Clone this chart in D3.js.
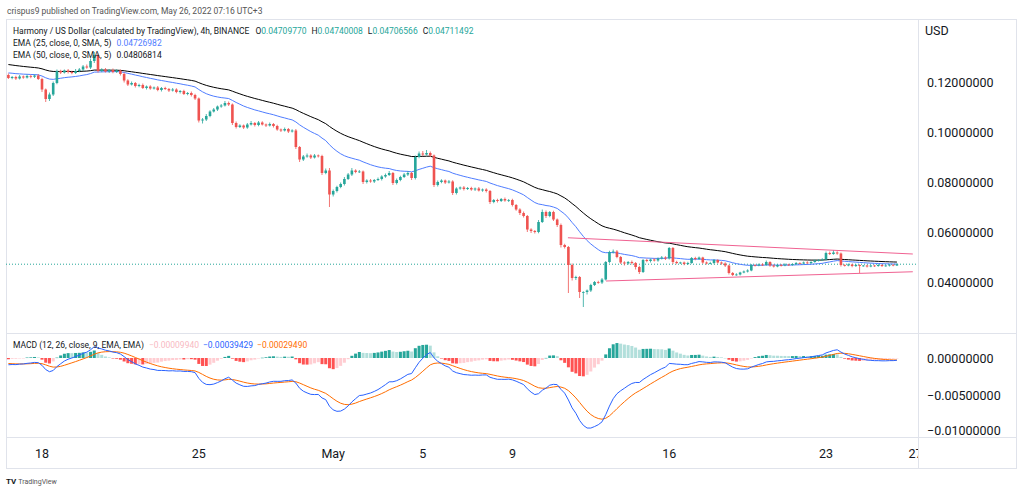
<!DOCTYPE html>
<html>
<head>
<meta charset="utf-8">
<script src="https://cdn.jsdelivr.net/npm/d3@7"></script>
<style>
  body { margin: 0; background: #fff; }
  svg { display: block; font-family: Roboto, "Noto Sans", sans-serif; }
</style>
</head>
<body>
<svg id="chart" width="1024" height="495"></svg>
<script>
// ---- data (prices in units of 0.0001 USD), 4h candles from Apr 16 12:00 (UTC+3)
const firstOpen = 1228;
const closes = [
  1216,1220,1214,1222,1218,1224,1221,1226,1212,1170,
  1132,1150,1196,1244,1238,1246,1240,1236,1244,1250,
  1262,1258,1284,1308,1244,1250,1242,1248,1240,1246,
  1232,1206,1190,1196,1184,1188,1176,1182,1174,1178,
  1168,1176,1172,1166,1170,1160,1164,1152,1156,1148,
  1134,1046,1050,1064,1082,1090,1102,1106,1116,1110,
  1036,1020,1026,1018,1030,1036,1028,1038,1030,1026,
  1032,1024,1010,1006,1012,1002,1006,940,890,902,
  906,898,906,904,836,846,750,764,780,792,
  812,830,846,840,842,800,806,802,808,812,
  822,828,836,796,808,820,830,836,816,900,
  914,910,916,906,788,800,806,798,802,756,
  774,778,772,776,770,774,766,770,764,720,
  728,724,732,726,728,708,690,676,664,610,
  604,600,640,680,664,680,650,628,548,540,
  468,416,420,360,360,366,388,400,398,410,
  480,520,522,500,478,474,480,476,460,440,
  488,484,490,486,494,498,494,536,480,476,
  478,472,476,496,492,498,478,474,476,488,
  478,474,466,436,428,430,438,442,446,468,
  466,470,468,480,466,462,468,466,470,468,
  472,476,474,478,476,480,486,488,490,516,
  512,518,514,468,466,470,464,468,464,466,
  462,466,464,468,464,466,469,466,471.1492
];
// upper / lower wick lengths beyond the candle body
const wickUp = [
  6,4,5,6,4,6,5,4,6,5, 4,8,6,6,5,4,6,5,8,6, 6,8,10,12,6,5,6,4,6,5,
  4,6,5,6,4,5,6,4,5,4, 6,4,5,4,6,5,4,5,4,6, 5,4,6,8,5,6,4,6,8,6,
  4,6,5,4,6,8,4,6,5,4, 6,4,5,4,6,4,5,6,4,6, 8,5,6,4,5,8,10,6,5,6,
  8,6,10,5,6,4,5,6,4,6, 5,6,8,4,6,5,6,8,4,6, 8,10,12,6,4,6,5,4,6,5,
  5,4,6,4,5,4,6,4,5,4, 4,5,4,6,4,5,4,5,6,4, 5,4,8,10,6,4,5,4,6,5,
  4,6,5,4,3,4,5,4,5,6, 4,5,8,6,4,5,4,6,4,5, 4,5,4,5,4,6,5,4,4,5,
  3,4,5,4,5,4,3,4,5,4, 3,4,5,3,4,5,3,4,5,4, 3,4,5,6,3,4,3,4,5,3,
  3,4,3,4,5,3,4,3,5,6, 6,10,5,4,3,4,3,4,3,2, 3,2,3,4,3,2,3,2,3
];
const wickDown = [
  4,5,6,4,5,4,6,5,4,10, 12,8,6,5,6,4,6,5,4,5, 6,5,6,8,6,5,4,6,5,4,
  6,8,6,4,6,5,4,6,5,4, 5,6,4,6,4,5,6,4,5,6, 6,8,12,6,5,4,6,5,4,6,
  8,6,4,6,5,4,6,5,4,6, 4,6,5,6,4,6,4,8,10,6, 5,6,4,6,8,5,50,8,6,5,
  6,4,6,5,4,8,6,5,6,4, 6,5,4,8,6,5,4,6,8,6, 5,6,4,6,8,6,5,6,4,8,
  6,5,6,4,5,6,4,5,6,8, 5,6,4,5,6,6,5,8,6,10, 8,6,5,4,8,5,6,8,10,6,
  112,10,8,24,60,10,6,4,5,6, 4,5,6,5,6,8,5,6,10,8, 4,5,6,4,5,4,6,4,8,5,
  4,5,4,3,5,4,5,4,3,5, 4,5,6,6,4,3,4,3,4,3, 4,3,4,3,5,4,3,4,3,4,
  3,4,3,4,3,4,3,4,3,4, 4,3,5,6,4,3,5,4,28,3, 4,3,4,3,4,3,4,3,2
];
// indicator values just before the first visible candle
const emaSeeds = { ema25: 0.1238, ema50: 0.1272, fast: 0.1226, slow: 0.1235, signal: -0.0007 };

const timeTicks = [
  [Date.UTC(2022,3,18), "18"], [Date.UTC(2022,3,25), "25"], [Date.UTC(2022,4,1), "May"],
  [Date.UTC(2022,4,5), "5"], [Date.UTC(2022,4,9), "9"], [Date.UTC(2022,4,16), "16"],
  [Date.UTC(2022,4,23), "23"], [Date.UTC(2022,4,27), "27"]
];
const priceTicks = [0.04, 0.06, 0.08, 0.10, 0.12];
const macdTicks = [0, -0.005, -0.01];
const upperTrend = [[Date.UTC(2022,4,11,11,30), 0.0577], [Date.UTC(2022,4,26,21), 0.0512]];
const lowerTrend = [[Date.UTC(2022,4,13,4,20), 0.0404], [Date.UTC(2022,4,26,21), 0.0441]];
const lastPrice = 0.04711492;

const headerText = "crispus9 published on TradingView.com, May 26, 2022 07:16 UTC+3";
const ohlcLegend = [["O", "0.04709770"], ["H", "0.04740008"], ["L", "0.04706566"], ["C", "0.04711492"]];
const emaLegend = [["EMA (25, close, 0, SMA, 5)", "0.04726982", "#4f7dff"],
                   ["EMA (50, close, 0, SMA, 5)", "0.04806814", "#131722"]];
const macdLegend = [["\u22120.00009940", "#f8b9c2"], ["\u22120.00039429", "#2962ff"], ["\u22120.00029490", "#ff6d00"]];

// ---- build candles and indicators
const start = Date.UTC(2022,3,16,12);
const step = 4 * 3600 * 1000;
const candles = closes.map((c, i) => {
  const o = i === 0 ? firstOpen : closes[i - 1];
  return {
    t: new Date(start + i * step),
    o: o * 1e-4, c: c * 1e-4,
    h: (Math.max(o, c) + wickUp[i]) * 1e-4,
    l: (Math.min(o, c) - wickDown[i]) * 1e-4
  };
});

function ema(values, n, seed) {
  const a = 2 / (n + 1);
  let prev = seed;
  return values.map(v => (prev = prev + a * (v - prev)));
}
const cl = candles.map(d => d.c);
const ema25 = ema(cl, 25, emaSeeds.ema25);
const ema50 = ema(cl, 50, emaSeeds.ema50);
const fast = ema(cl, 12, emaSeeds.fast);
const slow = ema(cl, 26, emaSeeds.slow);
const macd = fast.map((f, i) => f - slow[i]);
const signal = ema(macd, 9, emaSeeds.signal);
const hist = macd.map((m, i) => m - signal[i]);

// ---- layout
const L = 6, R = 1017, AX = 918, T = 19, PB = 333, MB = 437, B = 469;
const svg = d3.select("#chart");

const x = d3.scaleUtc()
  .domain([Date.UTC(2022,3,18), Date.UTC(2022,4,23)])
  .range([42, 826]);
const y = d3.scaleLinear().domain([0.0196, 0.1452]).range([PB, T]);
const ym = d3.scaleLinear().domain([-0.01, 0]).range([432, 358]);
const fmt = v => d3.format(".8f")(v).replace("-", "\u2212");

const defs = svg.append("defs");
defs.append("clipPath").attr("id", "cp").append("rect")
  .attr("x", L).attr("y", T).attr("width", AX - L).attr("height", PB - T);
defs.append("clipPath").attr("id", "cm").append("rect")
  .attr("x", L).attr("y", PB).attr("width", AX - L).attr("height", MB - PB);
defs.append("clipPath").attr("id", "ct").append("rect")
  .attr("x", L).attr("y", MB).attr("width", AX - L).attr("height", B - MB);

// header
svg.append("text").attr("x", 7).attr("y", 14)
  .attr("font-size", 8.5).attr("fill", "#555").text(headerText);

// frame
const grid = svg.append("g").attr("stroke", "#e0e3eb").attr("fill", "none");
grid.append("rect").attr("x", L + 0.5).attr("y", T + 0.5).attr("width", R - L - 1).attr("height", B - T - 1);
grid.append("line").attr("x1", AX + 0.5).attr("x2", AX + 0.5).attr("y1", T).attr("y2", B);
grid.append("line").attr("x1", L).attr("x2", R).attr("y1", PB + 0.5).attr("y2", PB + 0.5);
grid.append("line").attr("x1", L).attr("x2", R).attr("y1", MB + 0.5).attr("y2", MB + 0.5);

// ---- price pane
const pp = svg.append("g").attr("clip-path", "url(#cp)");
const up = "#26a69a", down = "#ef5350";

pp.append("line")
  .attr("x1", L).attr("x2", AX).attr("y1", y(lastPrice)).attr("y2", y(lastPrice))
  .attr("stroke", up).attr("stroke-width", 1).attr("stroke-dasharray", "1,2");

const line = d3.line().x((d, i) => x(candles[i].t)).y(d => y(d));
pp.append("path").attr("d", line(ema50)).attr("fill", "none").attr("stroke", "#000").attr("stroke-width", 1);
pp.append("path").attr("d", line(ema25)).attr("fill", "none").attr("stroke", "#4f7dff").attr("stroke-width", 1);

const cg = pp.append("g").selectAll("g").data(candles).join("g")
  .attr("fill", d => d.c >= d.o ? up : down)
  .attr("stroke", d => d.c >= d.o ? up : down);
cg.append("line")
  .attr("x1", d => x(d.t)).attr("x2", d => x(d.t))
  .attr("y1", d => y(d.h)).attr("y2", d => y(d.l)).attr("stroke-width", 0.8);
cg.append("rect")
  .attr("x", d => x(d.t) - 1.3).attr("width", 2.6)
  .attr("y", d => y(Math.max(d.o, d.c)))
  .attr("height", d => Math.max(0.8, Math.abs(y(d.o) - y(d.c))))
  .attr("stroke", "none");

const tl = d3.line().x(d => x(d[0])).y(d => y(d[1]));
[upperTrend, lowerTrend].forEach(seg => {
  pp.append("path").attr("d", tl(seg)).attr("fill", "none")
    .attr("stroke", "#f06292").attr("stroke-width", 1);
});

// legend
const lg = svg.append("g").attr("font-size", 8.5).attr("fill", "#131722");
const t1 = lg.append("text").attr("x", 13).attr("y", 34);
t1.append("tspan").text("Harmony / US Dollar (calculated by TradingView), 4h, BINANCE");
ohlcLegend.forEach(([k, v], i) => {
  t1.append("tspan").attr("dx", i === 0 ? 6 : 5).text(k);
  t1.append("tspan").attr("fill", up).text(v);
});
emaLegend.forEach(([k, v, c], i) => {
  const t = lg.append("text").attr("x", 13).attr("y", 46 + i * 11.5);
  t.append("tspan").text(k);
  t.append("tspan").attr("dx", 5).attr("fill", c).text(v);
});

// price axis
const pa = svg.append("g").attr("font-size", 12.5).attr("fill", "#131722");
pa.append("text").attr("x", 925).attr("y", 35).text("USD");
pa.selectAll(".pt").data(priceTicks).join("text")
  .attr("x", 927).attr("y", d => y(d) + 4.5).text(fmt);

// ---- MACD pane
const mp = svg.append("g").attr("clip-path", "url(#cm)");
const histColor = (h, i) => {
  const prev = i > 0 ? hist[i - 1] : h;
  if (h >= 0) return prev < h ? "#26a69a" : "#b2dfdb";
  return prev < h ? "#ffcdd2" : "#ff5252";
};
mp.append("g").selectAll("rect").data(hist).join("rect")
  .attr("x", (d, i) => x(candles[i].t) - 1.5).attr("width", 3)
  .attr("y", d => Math.min(ym(d), ym(0)))
  .attr("height", d => Math.max(0.5, Math.abs(ym(d) - ym(0))))
  .attr("fill", histColor);
const ml = d3.line().x((d, i) => x(candles[i].t)).y(d => ym(d));
mp.append("path").attr("d", ml(signal)).attr("fill", "none").attr("stroke", "#ff6d00").attr("stroke-width", 1);
mp.append("path").attr("d", ml(macd)).attr("fill", "none").attr("stroke", "#2962ff").attr("stroke-width", 1);

const mlg = svg.append("text").attr("x", 13).attr("y", 348).attr("font-size", 8.5).attr("fill", "#131722");
mlg.append("tspan").text("MACD (12, 26, close, 9, EMA, EMA)");
macdLegend.forEach(([v, c], i) => mlg.append("tspan").attr("dx", i === 0 ? 5 : 4).attr("fill", c).text(v));

pa.selectAll(".mt").data(macdTicks).join("text")
  .attr("x", 927).attr("y", d => Math.min(ym(d), MB - 7) + 4.5).text(fmt);

// ---- time axis
svg.append("g").attr("clip-path", "url(#ct)")
  .attr("font-size", 12.5).attr("fill", "#131722").attr("text-anchor", "middle")
  .selectAll("text").data(timeTicks).join("text")
  .attr("x", d => x(d[0])).attr("y", 458).text(d => d[1]);

// footer logo
const ft = svg.append("text").attr("x", 6).attr("y", 484).attr("font-size", 7).attr("fill", "#131722");
ft.append("tspan").attr("font-weight", "bold").attr("font-size", 8).text("TV");
ft.append("tspan").attr("dx", 2).attr("fill", "#555").text("TradingView");
</script>
</body>
</html>
